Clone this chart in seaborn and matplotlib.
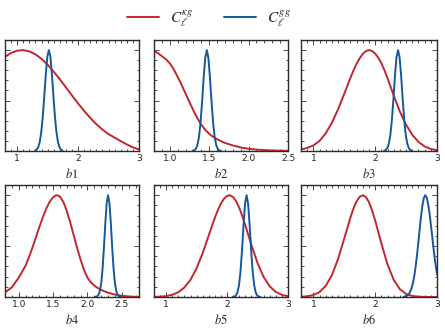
import numpy as np
import pandas as pd
import seaborn as sns
import matplotlib
matplotlib.use("Agg")
import matplotlib.pyplot as plt
from matplotlib.ticker import MultipleLocator
from matplotlib.lines import Line2D

# ---------------- data ----------------
panel_labels = ["$b1$", "$b2$", "$b3$", "$b4$", "$b5$", "$b6$"]
xlims = [(0.8, 3.0), (0.8, 2.5), (0.8, 3.0), (0.8, 2.75), (0.8, 3.0), (0.8, 3.0)]
xmajor = [1.0, 0.5, 1.0, 0.5, 1.0, 1.0]
legend_labels = [r"$C_\ell^{\kappa g}$", r"$C_\ell^{gg}$"]

# red curves (C_l^{kappa g})
red_x1 = [0.8, 0.9, 1.0, 1.1, 1.2, 1.3, 1.4, 1.5, 1.6, 1.7, 1.8, 1.9, 2.0, 2.1, 2.2, 2.3, 2.4, 2.5, 2.6, 2.7, 2.8, 2.9, 3.0]
red_y1 = [0.933, 0.972, 0.994, 1.0, 0.987, 0.958, 0.913, 0.855, 0.786, 0.711, 0.631, 0.550, 0.471, 0.397, 0.328, 0.266, 0.212, 0.167, 0.133, 0.098, 0.065, 0.036, 0.015]

red_x2 = [0.8, 0.85, 0.9, 0.95, 1.0, 1.05, 1.1, 1.15, 1.2, 1.25, 1.3, 1.35, 1.4, 1.45, 1.5, 1.55, 1.6, 1.65, 1.7, 1.8, 1.9, 2.0, 2.1, 2.2, 2.3, 2.4, 2.5]
red_y2 = [0.99, 0.97, 0.94, 0.91, 0.87, 0.81, 0.735, 0.655, 0.57, 0.485, 0.40, 0.325, 0.26, 0.21, 0.17, 0.14, 0.117, 0.098, 0.08, 0.055, 0.035, 0.022, 0.014, 0.009, 0.005, 0.003, 0.002]

red_x3 = [0.8, 0.9, 1.0, 1.1, 1.2, 1.3, 1.4, 1.5, 1.6, 1.65, 1.7, 1.75, 1.8, 1.85, 1.905, 1.95, 2.0, 2.05, 2.1, 2.15, 2.2, 2.3, 2.4, 2.5, 2.6, 2.7, 2.8, 2.9, 3.0]
red_y3 = [0.015, 0.030, 0.055, 0.100, 0.175, 0.280, 0.414, 0.567, 0.725, 0.80, 0.865, 0.92, 0.963, 0.99, 1.0, 0.99, 0.965, 0.925, 0.87, 0.80, 0.72, 0.55, 0.39, 0.26, 0.16, 0.09, 0.045, 0.02, 0.008]

red_x4 = [0.8, 0.9, 1.0, 1.1, 1.15, 1.2, 1.25, 1.3, 1.35, 1.4, 1.45, 1.5, 1.53, 1.56, 1.6, 1.65, 1.7, 1.75, 1.8, 1.85, 1.9, 1.95, 2.0, 2.05, 2.1, 2.15, 2.2, 2.25, 2.3, 2.4, 2.5, 2.6, 2.7, 2.75]
red_y4 = [0.045, 0.095, 0.19, 0.309, 0.393, 0.487, 0.586, 0.687, 0.783, 0.867, 0.935, 0.98, 0.995, 1.0, 0.986, 0.932, 0.843, 0.731, 0.606, 0.481, 0.366, 0.267, 0.19, 0.143, 0.112, 0.088, 0.07, 0.055, 0.042, 0.024, 0.012, 0.005, 0.002, 0.001]

red_x5 = [0.8, 0.9, 1.0, 1.1, 1.2, 1.3, 1.4, 1.5, 1.6, 1.7, 1.8, 1.85, 1.9, 1.95, 2.0, 2.04, 2.1, 2.15, 2.2, 2.25, 2.3, 2.4, 2.5, 2.6, 2.7, 2.8, 2.9, 3.0]
red_y5 = [0.0013, 0.0036, 0.009, 0.022, 0.047, 0.094, 0.170, 0.283, 0.433, 0.607, 0.780, 0.855, 0.919, 0.966, 0.993, 1.0, 0.981, 0.939, 0.875, 0.795, 0.703, 0.510, 0.333, 0.196, 0.104, 0.050, 0.021, 0.008]

red_x6 = [0.8, 0.9, 1.0, 1.1, 1.2, 1.3, 1.4, 1.5, 1.6, 1.65, 1.7, 1.75, 1.8, 1.85, 1.9, 1.95, 2.0, 2.1, 2.2, 2.3, 2.4, 2.5, 2.6, 2.7, 2.8, 2.9, 3.0]
red_y6 = [0.002, 0.007, 0.019, 0.049, 0.109, 0.215, 0.374, 0.575, 0.782, 0.871, 0.940, 0.985, 1.0, 0.982, 0.931, 0.851, 0.751, 0.526, 0.319, 0.168, 0.076, 0.030, 0.010, 0.003, 0.001, 0.0, 0.0]

# blue curves (C_l^{gg})
blue_x1 = [1.295, 1.32, 1.345, 1.37, 1.395, 1.42, 1.445, 1.47, 1.495, 1.52, 1.545, 1.57, 1.595, 1.62, 1.645, 1.67, 1.695, 1.72, 1.745]
blue_y1 = [0.004, 0.013, 0.0365, 0.088, 0.185, 0.339, 0.544, 0.763, 0.935, 1.0, 0.935, 0.763, 0.544, 0.339, 0.185, 0.088, 0.0365, 0.013, 0.004]

blue_x2 = [1.29, 1.31, 1.33, 1.35, 1.37, 1.39, 1.41, 1.43, 1.45, 1.47, 1.49, 1.51, 1.53, 1.55, 1.57, 1.59, 1.61, 1.63, 1.65]
blue_y2 = [0.0015, 0.006, 0.020, 0.056, 0.135, 0.278, 0.487, 0.726, 0.923, 1.0, 0.923, 0.726, 0.487, 0.278, 0.135, 0.056, 0.020, 0.006, 0.0015]

blue_x3 = [2.145, 2.17, 2.195, 2.22, 2.245, 2.27, 2.295, 2.32, 2.345, 2.37, 2.395, 2.42, 2.445, 2.47, 2.495, 2.52, 2.545, 2.57, 2.595]
blue_y3 = [0.0025, 0.009, 0.027, 0.070, 0.157, 0.306, 0.514, 0.744, 0.929, 1.0, 0.929, 0.744, 0.514, 0.306, 0.157, 0.070, 0.027, 0.009, 0.0025]

blue_x4 = [2.12, 2.14, 2.16, 2.18, 2.20, 2.22, 2.24, 2.26, 2.28, 2.30, 2.32, 2.34, 2.36, 2.38, 2.40, 2.42, 2.44, 2.46, 2.48]
blue_y4 = [0.0015, 0.006, 0.020, 0.056, 0.135, 0.278, 0.487, 0.726, 0.923, 1.0, 0.923, 0.726, 0.487, 0.278, 0.135, 0.056, 0.020, 0.006, 0.0015]

blue_x5 = [2.095, 2.12, 2.145, 2.17, 2.195, 2.22, 2.245, 2.27, 2.295, 2.32, 2.345, 2.37, 2.395, 2.42, 2.445, 2.47, 2.495, 2.52, 2.545]
blue_y5 = [0.001, 0.004, 0.014, 0.044, 0.114, 0.249, 0.458, 0.707, 0.917, 1.0, 0.917, 0.707, 0.458, 0.249, 0.114, 0.044, 0.014, 0.004, 0.001]

blue_x6 = [2.46, 2.51, 2.535, 2.56, 2.585, 2.61, 2.635, 2.66, 2.685, 2.71, 2.735, 2.76, 2.785, 2.81, 2.835, 2.86, 2.885, 2.91, 2.935, 2.96, 2.985, 3.0]
blue_y6 = [0.002, 0.011, 0.023, 0.044, 0.080, 0.135, 0.216, 0.325, 0.458, 0.607, 0.755, 0.882, 0.969, 1.0, 0.975, 0.902, 0.793, 0.662, 0.524, 0.395, 0.282, 0.225]

red_xs = [red_x1, red_x2, red_x3, red_x4, red_x5, red_x6]
red_ys = [red_y1, red_y2, red_y3, red_y4, red_y5, red_y6]
blue_xs = [blue_x1, blue_x2, blue_x3, blue_x4, blue_x5, blue_x6]
blue_ys = [blue_y1, blue_y2, blue_y3, blue_y4, blue_y5, blue_y6]

# ---------------- style ----------------
sns.set_style("ticks")
plt.rcParams["font.family"] = ["DejaVu Sans"]
plt.rcParams["mathtext.fontset"] = "stix"

RED = "#c1272d"
BLUE = "#17589a"
SPINE = "#2b2b2b"
LW = 1.4

fig = plt.figure(figsize=(4.45, 3.3), dpi=100)

W, H = 445.0, 330.0
cols = [(5, 139), (154, 288), (301, 437)]
rows = [(40, 151), (185, 297)]

for i in range(6):
    r, c = divmod(i, 3)
    x0, x1 = cols[c]
    y0, y1 = rows[r]
    ax = fig.add_axes([x0 / W, 1 - y1 / H, (x1 - x0) / W, (y1 - y0) / H])
    dr = pd.DataFrame({"x": red_xs[i], "y": red_ys[i]})
    db = pd.DataFrame({"x": blue_xs[i], "y": blue_ys[i]})
    sns.lineplot(data=dr, x="x", y="y", ax=ax, color=RED, lw=LW, sort=False)
    sns.lineplot(data=db, x="x", y="y", ax=ax, color=BLUE, lw=LW, sort=False)
    ax.set_xlim(*xlims[i])
    ax.set_ylim(0, 1.1)
    ax.xaxis.set_major_locator(MultipleLocator(xmajor[i]))
    ax.xaxis.set_minor_locator(MultipleLocator(0.1))
    ax.yaxis.set_major_locator(MultipleLocator(0.5))
    ax.yaxis.set_minor_locator(MultipleLocator(0.1))
    if xmajor[i] == 0.5:
        ax.xaxis.set_major_formatter(plt.FormatStrFormatter("%.1f"))
    else:
        ax.xaxis.set_major_formatter(plt.FormatStrFormatter("%d"))
    ax.tick_params(which="both", direction="in", top=True, right=True,
                   color=SPINE, width=0.6)
    ax.tick_params(which="major", length=3.5, labelsize=6.5, pad=2,
                   labelcolor="#222222")
    ax.tick_params(which="minor", length=1.8)
    ax.tick_params(axis="y", labelleft=False)
    for s in ax.spines.values():
        s.set_color(SPINE)
        s.set_linewidth(1.0)
    ax.set_ylabel("")
    ax.set_xlabel(panel_labels[i], fontsize=9, labelpad=3)

handles = [Line2D([], [], color=RED, lw=LW), Line2D([], [], color=BLUE, lw=LW)]
fig.legend(handles, legend_labels, loc="center", bbox_to_anchor=(0.47, 0.945),
           ncol=2, frameon=False, fontsize=11, handlelength=2.1,
           handletextpad=0.7, columnspacing=2.0, borderpad=0)

fig.savefig("out.png", dpi=100)
